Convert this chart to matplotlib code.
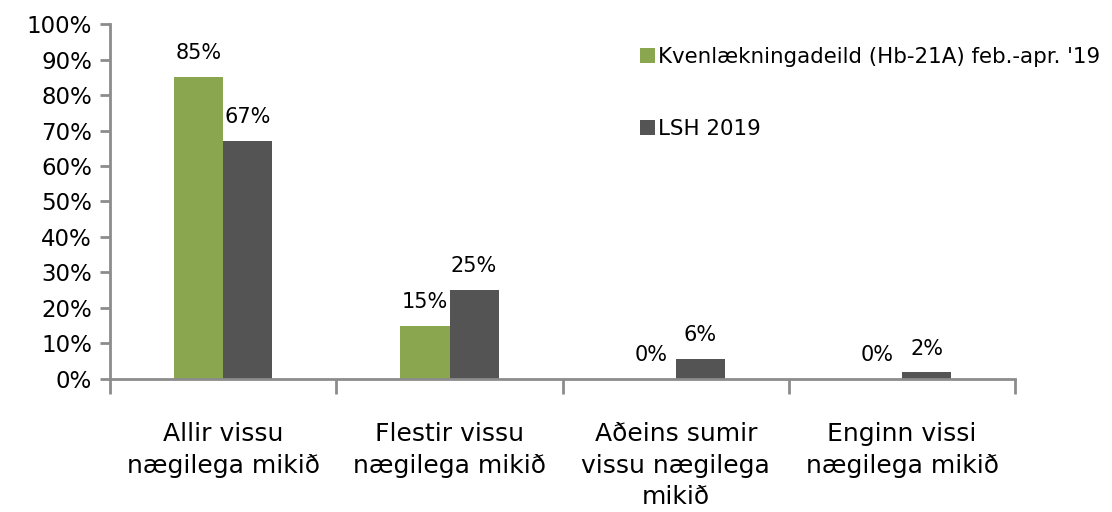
import numpy as np
import matplotlib.pyplot as plt
from matplotlib.ticker import PercentFormatter

plt.rcParams['font.family'] = ['DejaVu Sans']

categories = ['Allir vissu\nnægilega mikið', 'Flestir vissu\nnægilega mikið',
              'Aðeins sumir\nvissu nægilega\nmikið', 'Enginn vissi\nnægilega mikið']
ward = [0.85, 0.15, 0.0, 0.0]
lsh = [0.67, 0.25, 0.056, 0.018]
series_names = ["Kvenlækningadeild (Hb-21A) feb.-apr. '19", 'LSH 2019']

green = '#8aa64f'
dark = '#545454'
axis_grey = '#8c8c8c'

fig = plt.figure(figsize=(11.12, 5.12), dpi=100)
ax = fig.add_axes([0.099, 0.26, 0.814, 0.693])

x = np.arange(len(categories))
w = 0.217
b1 = ax.bar(x - w / 2, ward, w, color=green, label=series_names[0])
b2 = ax.bar(x + w / 2, lsh, w, color=dark, label=series_names[1])

for bars in (b1, b2):
    for r in bars:
        v = r.get_height()
        ax.annotate(f'{round(v * 100):d}%', (r.get_x() + r.get_width() / 2, v),
                    xytext=(0, 10), textcoords='offset points',
                    ha='center', va='bottom', fontsize=15)

ax.set_xlim(-0.5, len(categories) - 0.5)
ax.set_ylim(0, 1.0)
ax.set_yticks(np.arange(0, 1.01, 0.1))
ax.yaxis.set_major_formatter(PercentFormatter(1.0, decimals=0))
ax.tick_params(axis='y', length=7, width=2, color=axis_grey, labelsize=16.5, pad=6)

ax.set_xticks(x)
ax.set_xticklabels(categories, fontsize=18, linespacing=1.4)
ax.tick_params(axis='x', length=0, pad=31)
ax.set_xticks(np.arange(-0.5, len(categories)), minor=True)
ax.tick_params(axis='x', which='minor', length=11, width=2, color=axis_grey)

for s in ('top', 'right'):
    ax.spines[s].set_visible(False)
for s in ('left', 'bottom'):
    ax.spines[s].set_color(axis_grey)
    ax.spines[s].set_linewidth(2)

ax.legend(loc='upper left', bbox_to_anchor=(0.568, 0.925), bbox_transform=fig.transFigure,
          frameon=False, fontsize=15.4, handlelength=0.7, handleheight=0.7,
          handletextpad=0.15, labelspacing=2.45, borderaxespad=0)

fig.savefig('out.png', dpi=100)
